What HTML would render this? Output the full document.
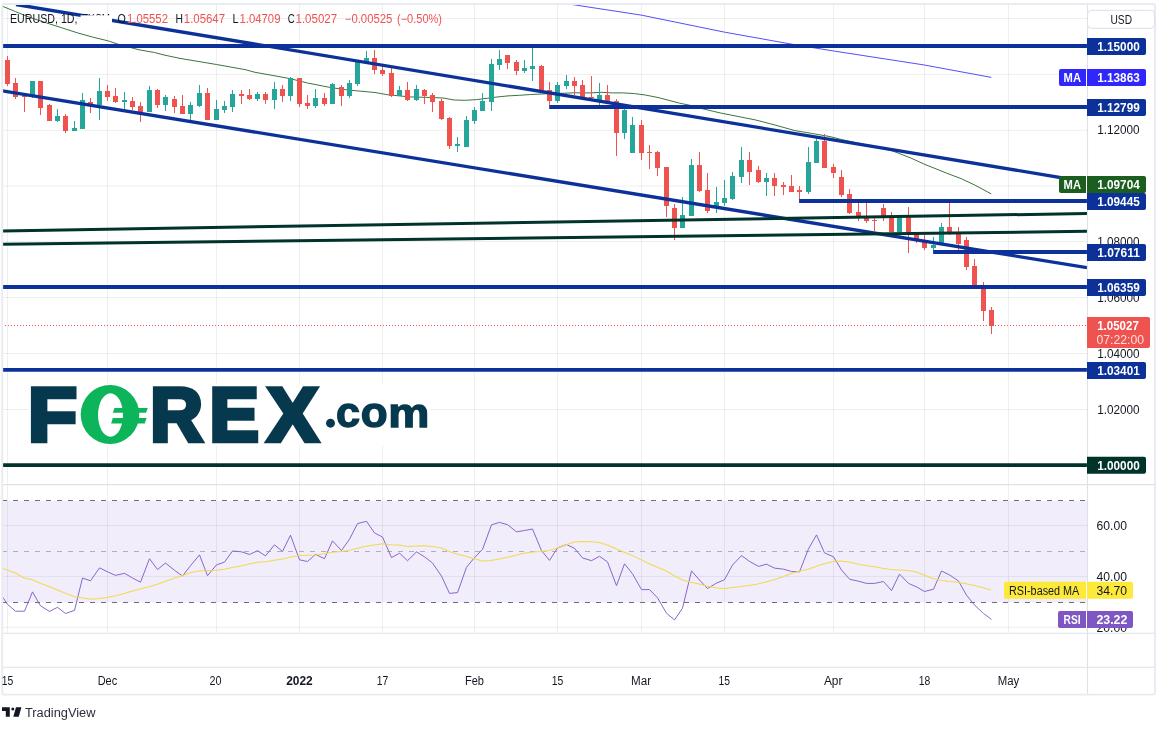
<!DOCTYPE html>
<html lang="en"><head><meta charset="utf-8"><title>EURUSD 1D chart</title>
<style>html,body{margin:0;padding:0;background:#fff}body{width:1165px;height:730px;overflow:hidden}svg{display:block;will-change:transform;filter:blur(.35px)}text{font-family:"Liberation Sans", sans-serif;font-size:12px;fill:#131722}.b{font-weight:bold}.w{fill:#fff}.r{fill:#ef5350}</style></head><body>
<svg width="1165" height="730" viewBox="0 0 1165 730">
<defs><clipPath id="cm"><rect x="2.5" y="4" width="1084.5" height="480.5"/></clipPath><clipPath id="cr"><rect x="2.5" y="485" width="1084.5" height="148"/></clipPath><clipPath id="ct"><rect x="2" y="667" width="1085" height="28"/></clipPath></defs>
<rect x="2.5" y="501" width="1084.5" height="101.5" fill="#f1edfa"/>
<path d="M7.5 4V484M7.5 485V633M107.5 4V484M107.5 485V633M216.5 4V484M216.5 485V633M299.5 4V484M299.5 485V633M382.5 4V484M382.5 485V633M474.5 4V484M474.5 485V633M557.5 4V484M557.5 485V633M641.5 4V484M641.5 485V633M724.5 4V484M724.5 485V633M833.5 4V484M833.5 485V633M924.5 4V484M924.5 485V633M1008.5 4V484M1008.5 485V633M2.5 18.5H1087M2.5 74.4H1087M2.5 130.3H1087M2.5 186.0H1087M2.5 241.5H1087M2.5 297.5H1087M2.5 353.5H1087M2.5 409.5H1087M2.5 525.5H1087M2.5 576.4H1087M2.5 627.4H1087" stroke="rgba(42,46,57,0.075)" stroke-width="1" fill="none"/>
<path d="M2 500.5H1087" stroke="#6a6d7a" stroke-width="1.05" stroke-dasharray="5 6" fill="none"/>
<path d="M2 602.5H1087" stroke="#6a6d7a" stroke-width="1.05" stroke-dasharray="5 6" fill="none"/>
<path d="M2 551.5H1087" stroke="#aeafbe" stroke-width="1" stroke-dasharray="5 6" fill="none"/>
<g clip-path="url(#cm)" fill="none" stroke-linejoin="round">
<polyline points="2.3,6.2 15.5,11.6 30.9,17.8 46.4,22.9 61.8,27.8 77.3,32.8 92.7,37.1 108.2,40.9 117.4,44.0 139.1,49.8 154.5,52.5 164.0,55.0 180.0,58.4 216.5,64.5 245.0,69.6 255.0,72.3 289.6,78.5 307.5,83.0 329.8,87.4 345.4,89.7 356.6,90.8 375.0,92.5 387.3,94.7 409.6,96.9 432.0,97.5 443.0,98.0 454.3,100.0 465.4,100.3 476.6,99.6 487.8,98.2 497.0,97.0 508.0,95.9 519.3,95.3 530.4,94.5 546.4,93.8 563.0,93.3 574.3,92.8 590.0,92.9 601.2,92.3 612.3,92.9 623.5,92.9 634.6,93.6 645.8,95.1 657.0,97.3 668.1,100.1 679.3,103.1 690.4,105.4 701.6,108.5 712.8,111.2 720.0,112.9 755.8,120.0 775.0,125.0 794.9,130.6 811.6,133.4 830.0,136.6 841.7,139.6 860.0,143.5 876.0,147.0 892.7,151.0 910.3,157.8 924.9,164.4 946.7,173.2 961.3,178.7 975.9,185.6 991.2,193.9" stroke="#2f6e32" stroke-width="0.95"/>
<polyline points="567.5,3.8 641.2,15.1 724.3,32.1 794.1,44.6 833.8,51.0 924.4,65.0 991.3,77.4" stroke="#4c44f8" stroke-width="0.95"/>
</g>
<g clip-path="url(#cm)" shape-rendering="crispEdges">
<path d="M32 81h1v17h-1zM30 81h5v16h-5zM57 109h1v13h-1zM55 116h5v5h-5zM74 121h1v10h-1zM72 128h5v3h-5zM82 93h1v36h-1zM80 100h5v29h-5zM99 78h1v42h-1zM97 91h5v14h-5zM124 92h1v17h-1zM122 100h5v2h-5zM149 86h1v26h-1zM147 90h5v22h-5zM165 95h1v16h-1zM163 97h5v8h-5zM190 102h1v18h-1zM188 105h5v9h-5zM199 85h1v22h-1zM197 93h5v13h-5zM216 100h1v20h-1zM214 109h5v11h-5zM224 101h1v12h-1zM222 106h5v4h-5zM232 90h1v22h-1zM230 94h5v13h-5zM257 92h1v9h-1zM255 94h5v5h-5zM274 82h1v27h-1zM272 89h5v11h-5zM290 77h1v24h-1zM288 78h5v18h-5zM315 89h1v19h-1zM313 98h5v8h-5zM332 83h1v21h-1zM330 84h5v20h-5zM349 80h1v18h-1zM347 83h5v13h-5zM357 61h1v25h-1zM355 62h5v22h-5zM366 51h1v12h-1zM364 58h5v5h-5zM399 86h1v10h-1zM397 90h5v6h-5zM416 85h1v16h-1zM414 89h5v11h-5zM457 137h1v15h-1zM455 144h5v2h-5zM466 116h1v31h-1zM464 120h5v27h-5zM474 107h1v17h-1zM472 110h5v11h-5zM482 93h1v18h-1zM480 101h5v10h-5zM491 59h1v52h-1zM489 64h5v38h-5zM499 50h1v20h-1zM497 59h5v6h-5zM524 60h1v13h-1zM522 68h5v3h-5zM532 48h1v33h-1zM530 66h5v3h-5zM557 82h1v21h-1zM555 85h5v16h-5zM566 75h1v14h-1zM564 81h5v5h-5zM599 83h1v22h-1zM597 95h5v7h-5zM624 109h1v30h-1zM622 110h5v23h-5zM632 117h1v36h-1zM630 125h5v28h-5zM682 197h1v31h-1zM680 215h5v13h-5zM691 159h1v57h-1zM689 165h5v51h-5zM716 187h1v26h-1zM714 202h5v5h-5zM724 180h1v26h-1zM722 198h5v5h-5zM732 172h1v28h-1zM730 176h5v23h-5zM741 147h1v36h-1zM739 160h5v17h-5zM766 173h1v23h-1zM764 178h5v4h-5zM808 147h1v47h-1zM806 162h5v30h-5zM816 138h1v25h-1zM814 141h5v22h-5zM899 215h1v21h-1zM897 217h5v15h-5zM933 237h1v13h-1zM931 245h5v3h-5zM941 223h1v20h-1zM939 227h5v16h-5z" fill="#26a69a"/>
<path d="M7 56h1v30h-1zM5 60h5v24h-5zM15 78h1v21h-1zM13 83h5v14h-5zM24 95h1v17h-1zM22 96h5v1h-5zM40 81h1v34h-1zM38 81h5v27h-5zM49 104h1v17h-1zM47 105h5v16h-5zM65 114h1v19h-1zM63 116h5v15h-5zM90 98h1v15h-1zM88 102h5v2h-5zM107 85h1v16h-1zM105 91h5v6h-5zM115 88h1v15h-1zM113 96h5v6h-5zM132 97h1v13h-1zM130 101h5v6h-5zM140 102h1v20h-1zM138 106h5v6h-5zM157 89h1v19h-1zM155 90h5v15h-5zM174 96h1v17h-1zM172 99h5v8h-5zM182 95h1v19h-1zM180 106h5v8h-5zM207 88h1v32h-1zM205 93h5v27h-5zM241 90h1v14h-1zM239 94h5v2h-5zM249 89h1v11h-1zM247 95h5v4h-5zM265 92h1v12h-1zM263 94h5v6h-5zM282 85h1v17h-1zM280 89h5v7h-5zM299 78h1v29h-1zM297 78h5v26h-5zM307 95h1v14h-1zM305 103h5v3h-5zM324 93h1v13h-1zM322 98h5v6h-5zM341 85h1v21h-1zM339 87h5v9h-5zM374 50h1v24h-1zM372 58h5v12h-5zM382 65h1v11h-1zM380 70h5v4h-5zM391 68h1v29h-1zM389 73h5v23h-5zM407 82h1v19h-1zM405 90h5v10h-5zM424 89h1v15h-1zM422 90h5v6h-5zM432 93h1v19h-1zM430 95h5v7h-5zM441 99h1v21h-1zM439 101h5v18h-5zM449 117h1v32h-1zM447 118h5v28h-5zM507 55h1v14h-1zM505 55h5v8h-5zM516 60h1v15h-1zM514 62h5v9h-5zM541 65h1v25h-1zM539 66h5v24h-5zM549 82h1v23h-1zM547 90h5v11h-5zM574 77h1v18h-1zM572 81h5v5h-5zM582 80h1v17h-1zM580 85h5v12h-5zM591 76h1v22h-1zM589 97h5v1h-5zM607 85h1v16h-1zM605 95h5v6h-5zM616 99h1v57h-1zM614 101h5v32h-5zM641 120h1v40h-1zM639 125h5v28h-5zM649 145h1v24h-1zM647 152h5v1h-5zM657 151h1v25h-1zM655 152h5v16h-5zM666 167h1v50h-1zM664 167h5v39h-5zM674 204h1v36h-1zM672 208h5v20h-5zM699 152h1v40h-1zM697 165h5v26h-5zM707 173h1v40h-1zM705 190h5v21h-5zM749 152h1v33h-1zM747 160h5v12h-5zM758 166h1v17h-1zM756 170h5v12h-5zM774 173h1v23h-1zM772 178h5v8h-5zM783 182h1v13h-1zM781 185h5v2h-5zM791 175h1v17h-1zM789 186h5v6h-5zM799 186h1v14h-1zM797 190h5v2h-5zM824 134h1v34h-1zM822 141h5v27h-5zM833 164h1v14h-1zM831 167h5v6h-5zM841 170h1v27h-1zM839 177h5v18h-5zM849 189h1v25h-1zM847 194h5v19h-5zM858 200h1v21h-1zM856 212h5v4h-5zM866 200h1v23h-1zM864 217h5v4h-5zM874 217h1v14h-1zM872 220h5v1h-5zM883 204h1v17h-1zM881 208h5v10h-5zM891 212h1v20h-1zM889 217h5v15h-5zM908 207h1v46h-1zM906 217h5v15h-5zM916 232h1v11h-1zM914 232h5v9h-5zM924 235h1v15h-1zM922 241h5v7h-5zM949 200h1v35h-1zM947 227h5v6h-5zM958 227h1v23h-1zM956 234h5v10h-5zM966 237h1v33h-1zM964 240h5v27h-5zM974 259h1v28h-1zM972 266h5v21h-5zM983 282h1v39h-1zM981 287h5v24h-5zM991 307h1v27h-1zM989 310h5v16h-5z" fill="#ef5350"/>
</g>
<path d="M2 325.5H1087" stroke="#ef5350" stroke-width="1" stroke-dasharray="1 2" fill="none" shape-rendering="crispEdges"/>
<g clip-path="url(#cm)" fill="none" stroke-linejoin="round">
<line x1="16.00" y1="4.50" x2="1092.00" y2="182.79" stroke="#0c3299" stroke-width="3.30"/>
<line x1="2.50" y1="90.88" x2="1087.00" y2="267.69" stroke="#0c3299" stroke-width="3.30"/>
<line x1="2.50" y1="230.90" x2="1087.00" y2="213.50" stroke="#00332a" stroke-width="3.00"/>
<line x1="2.50" y1="244.30" x2="1087.00" y2="231.30" stroke="#00332a" stroke-width="3.00"/>
<line x1="2.50" y1="45.90" x2="1087.00" y2="45.90" stroke="#0c3299" stroke-width="4.00"/>
<line x1="549.20" y1="107.00" x2="1087.00" y2="107.00" stroke="#0c3299" stroke-width="4.00"/>
<line x1="799.10" y1="201.00" x2="1087.00" y2="201.00" stroke="#0c3299" stroke-width="4.00"/>
<line x1="933.10" y1="252.00" x2="1087.00" y2="252.00" stroke="#0c3299" stroke-width="4.00"/>
<line x1="2.50" y1="287.00" x2="1087.00" y2="287.00" stroke="#0c3299" stroke-width="4.00"/>
<line x1="2.50" y1="369.90" x2="1087.00" y2="369.90" stroke="#0c3299" stroke-width="3.90"/>
<line x1="2.50" y1="465.10" x2="1087.00" y2="465.10" stroke="#00332a" stroke-width="3.80"/>
</g>
<g clip-path="url(#cr)" fill="none" stroke-linejoin="round">
<polyline points="2.3,596.5 7.5,604.3 15.5,611.2 24.5,611.2 32.5,591.9 40.5,605.8 49.5,611.5 57.5,607.3 65.5,613.5 74.5,610.4 82.5,578.0 90.5,580.8 99.5,567.9 107.5,571.8 115.5,575.4 124.5,573.3 132.5,578.0 140.5,582.2 149.5,558.7 157.5,569.5 165.5,563.0 174.5,570.3 182.5,576.0 190.5,565.7 199.5,554.9 207.5,575.7 216.5,564.9 224.5,562.1 232.5,551.0 241.5,551.8 249.5,554.5 257.5,550.7 265.5,555.9 274.5,544.8 282.5,551.5 290.5,535.2 299.5,559.8 307.5,561.5 315.5,554.4 324.5,558.7 332.5,540.9 341.5,550.5 349.5,539.2 357.5,523.6 366.5,521.3 374.5,532.9 382.5,537.0 391.5,557.6 399.5,553.2 407.5,560.7 416.5,551.9 424.5,556.8 432.5,563.0 441.5,576.1 449.5,593.4 457.5,592.6 466.5,567.3 474.5,557.6 482.5,549.4 491.5,524.8 499.5,522.4 507.5,524.7 516.5,531.8 524.5,530.5 532.5,529.0 541.5,550.6 549.5,560.4 557.5,547.9 566.5,544.5 574.5,548.3 582.5,557.9 591.5,560.7 599.5,556.3 607.5,561.9 616.5,585.7 624.5,563.8 632.5,573.8 641.5,589.6 649.5,589.6 657.5,597.8 666.5,613.2 674.5,619.9 682.5,608.2 691.5,570.9 699.5,580.0 707.5,588.5 716.5,583.1 724.5,579.7 732.5,565.0 741.5,555.6 749.5,561.4 758.5,566.4 766.5,564.2 774.5,568.1 783.5,569.2 791.5,571.5 799.5,571.8 808.5,548.8 816.5,534.9 824.5,552.9 833.5,556.8 841.5,569.9 849.5,579.2 858.5,581.2 866.5,583.4 874.5,583.4 883.5,581.5 891.5,590.6 899.5,574.1 908.5,583.4 916.5,586.9 924.5,591.5 933.5,589.2 941.5,571.0 949.5,574.9 958.5,581.0 966.5,595.2 974.5,605.0 983.5,613.5 991.5,619.4" stroke="#8460c6" stroke-width="0.95"/>
<polyline points="2.0,568.2 15.5,573.0 24.1,578.0 32.4,579.8 40.8,583.4 49.1,586.5 57.5,590.0 65.8,593.4 74.2,596.5 82.5,598.1 90.9,599.3 99.2,598.4 107.5,597.3 115.9,595.8 124.2,593.4 132.6,591.1 140.9,588.8 149.3,586.8 157.6,584.2 166.0,581.1 174.3,578.3 181.6,575.7 190.9,572.6 199.2,571.1 207.5,570.6 215.9,570.3 224.2,569.2 232.4,567.5 240.8,566.0 249.1,564.1 257.5,562.3 265.8,561.8 274.1,560.3 282.5,559.0 290.8,556.9 299.2,555.6 307.5,555.3 315.9,554.9 324.2,553.8 332.5,552.2 340.9,551.6 349.1,550.6 357.5,548.3 365.8,546.3 374.1,544.9 382.5,543.7 390.8,544.8 399.2,544.9 407.5,546.5 415.9,546.0 424.2,545.7 432.5,546.5 440.9,547.8 449.2,551.4 457.6,554.2 465.9,556.3 474.3,558.8 482.6,561.0 490.8,560.4 499.1,559.1 507.5,557.3 515.8,555.3 524.2,553.2 532.6,551.9 540.9,551.4 549.2,550.6 557.4,547.9 565.8,544.8 574.1,542.1 582.5,541.4 590.8,541.7 599.2,542.4 607.5,544.9 615.8,548.8 624.2,552.2 632.5,555.6 640.9,559.6 649.2,563.8 657.6,567.2 665.9,570.7 674.2,575.7 682.6,580.0 690.8,582.3 699.2,583.9 707.5,586.2 715.8,587.7 724.2,588.8 732.5,587.4 740.9,586.6 749.2,585.4 757.6,583.9 765.9,582.0 774.2,579.7 782.4,576.9 790.8,573.5 799.1,571.2 807.5,569.5 815.8,566.4 824.2,563.8 832.5,561.8 840.8,561.1 849.2,562.1 857.6,564.0 865.8,565.6 874.1,566.8 882.4,568.2 890.8,569.4 899.1,569.9 907.5,570.5 915.8,571.8 924.2,574.9 932.5,578.4 940.9,580.2 949.2,581.4 957.5,582.3 965.9,583.7 974.2,585.4 982.6,587.5 990.8,589.9" stroke="#f2d94f" stroke-width="1.05"/>
</g>
<g fill="none" stroke="#e0e1e5" stroke-width="1.15">
<path d="M2.5 484.6H1155M2.5 633.2H1155M2.5 667.2H1155M1087.5 4V694"/>
</g>
<rect x="2.2" y="4" width="1152.8" height="690.6" rx="2" fill="none" stroke="#e9ebf2" stroke-width="1.9"/>
<rect x="29" y="383.5" width="400" height="62" fill="#fff"/>
<text class="b" style="font-size:75.27px;fill:#06384e;stroke:#06384e;stroke-width:4.6px"><tspan x="28.09" y="440.95" textLength="49.01" lengthAdjust="spacingAndGlyphs">F</tspan><tspan x="80.6" y="440.3" style="fill:#0cb45a;stroke:none">O</tspan><tspan x="150.36" y="440.95" textLength="52.58" lengthAdjust="spacingAndGlyphs">R</tspan><tspan x="209.41" y="440.95" textLength="49.37" lengthAdjust="spacingAndGlyphs">E</tspan><tspan x="267.16" y="440.95" textLength="50.82" lengthAdjust="spacingAndGlyphs">X</tspan></text>
<ellipse cx="110" cy="414.5" rx="29.3" ry="29.5" fill="#0cb45a"/>
<ellipse cx="110.5" cy="415" rx="12.5" ry="21.75" fill="#fff"/>
<path d="M114.45 407.9H147.8L146 412.85H112.8zM112.8 418.1H146.6L144.7 423.6H111.15z" fill="#0cb45a"/>
<text class="b" style="font-size:42.5px;fill:#06384e;stroke:#06384e;stroke-width:1.3px"><tspan x="325.6" y="426" style="font-size:32px;stroke:none">.</tspan><tspan x="335.97" y="427.39" textLength="24.05" lengthAdjust="spacingAndGlyphs">c</tspan><tspan x="360.65" y="427.39" textLength="26.94" lengthAdjust="spacingAndGlyphs">o</tspan><tspan x="388.25" y="426.87" textLength="41.09" lengthAdjust="spacingAndGlyphs" style="font-size:39.79px">m</tspan></text>
<circle cx="330.5" cy="423.2" r="4.45" fill="#06384e"/>
<text x="10" y="22.7" textLength="67.5" lengthAdjust="spacingAndGlyphs">EURUSD, 1D,</text>
<text x="82" y="22.7" textLength="28" lengthAdjust="spacingAndGlyphs">FXCM</text>
<rect x="80.5" y="15.3" width="31.5" height="15.7" fill="#fff"/>
<text x="117.6" y="22.7" textLength="8.3" lengthAdjust="spacingAndGlyphs">O</text>
<text x="127.0" y="22.7" textLength="41.0" lengthAdjust="spacingAndGlyphs" class="r">1.05552</text>
<text x="175.6" y="22.7" textLength="7.5" lengthAdjust="spacingAndGlyphs">H</text>
<text x="183.8" y="22.7" textLength="41.2" lengthAdjust="spacingAndGlyphs" class="r">1.05647</text>
<text x="232.6" y="22.7" textLength="6.0" lengthAdjust="spacingAndGlyphs">L</text>
<text x="239.5" y="22.7" textLength="41.0" lengthAdjust="spacingAndGlyphs" class="r">1.04709</text>
<text x="287.8" y="22.7" textLength="7.0" lengthAdjust="spacingAndGlyphs">C</text>
<text x="295.5" y="22.7" textLength="41.6" lengthAdjust="spacingAndGlyphs" class="r">1.05027</text>
<text x="344.8" y="22.7" textLength="47.6" lengthAdjust="spacingAndGlyphs" class="r">−0.00525</text>
<text x="397.0" y="22.7" textLength="45.0" lengthAdjust="spacingAndGlyphs" class="r">(−0.50%)</text>
<text x="1097.2" y="134.0" textLength="42.4" lengthAdjust="spacingAndGlyphs">1.12000</text>
<text x="1097.2" y="245.8" textLength="42.4" lengthAdjust="spacingAndGlyphs">1.08000</text>
<text x="1097.2" y="301.7" textLength="42.4" lengthAdjust="spacingAndGlyphs">1.06000</text>
<text x="1097.2" y="357.8" textLength="42.4" lengthAdjust="spacingAndGlyphs">1.04000</text>
<text x="1097.2" y="413.9" textLength="42.4" lengthAdjust="spacingAndGlyphs">1.02000</text>
<text x="1096.6" y="530.0" textLength="30.4" lengthAdjust="spacingAndGlyphs">60.00</text>
<text x="1096.6" y="581.0" textLength="30.4" lengthAdjust="spacingAndGlyphs">40.00</text>
<text x="1096.6" y="631.9" textLength="30.4" lengthAdjust="spacingAndGlyphs">20.00</text>
<rect x="1087.5" y="10.3" width="67" height="18" rx="4" fill="#fff" stroke="#dcdfe8" stroke-width="1"/>
<text x="1110.5" y="23.7" textLength="21.5" lengthAdjust="spacingAndGlyphs">USD</text>
<path d="M1087.0 38.0h57.0a2 2 0 0 1 2 2v13.0a2 2 0 0 1 -2 2h-57.0z" fill="#0c3299"/>
<text x="1097.2" y="50.9" textLength="42.6" lengthAdjust="spacingAndGlyphs" class="b" style="fill:#fff">1.15000</text>
<rect x="1085.0" y="68.9" width="3.0" height="17.0" fill="#fff"/>
<path d="M1061.0 68.9h25.0v17.0h-25.0a2 2 0 0 1 -2 -2v-13.0a2 2 0 0 1 2 -2z" fill="#3027fc"/>
<text x="1063.6" y="81.8" textLength="17.4" lengthAdjust="spacingAndGlyphs" class="b" style="fill:#fff">MA</text>
<path d="M1087.0 68.9h57.0a2 2 0 0 1 2 2v13.0a2 2 0 0 1 -2 2h-57.0z" fill="#3027fc"/>
<text x="1097.2" y="81.8" textLength="42.6" lengthAdjust="spacingAndGlyphs" class="b" style="fill:#fff">1.13863</text>
<path d="M1087.0 98.9h57.0a2 2 0 0 1 2 2v13.0a2 2 0 0 1 -2 2h-57.0z" fill="#0c3299"/>
<text x="1097.2" y="111.8" textLength="42.6" lengthAdjust="spacingAndGlyphs" class="b" style="fill:#fff">1.12799</text>
<rect x="1085.0" y="176.0" width="3.0" height="17.0" fill="#fff"/>
<path d="M1061.0 176.0h25.0v17.0h-25.0a2 2 0 0 1 -2 -2v-13.0a2 2 0 0 1 2 -2z" fill="#1b5e20"/>
<text x="1063.6" y="188.9" textLength="17.4" lengthAdjust="spacingAndGlyphs" class="b" style="fill:#fff">MA</text>
<path d="M1087.0 176.0h57.0a2 2 0 0 1 2 2v13.0a2 2 0 0 1 -2 2h-57.0z" fill="#1b5e20"/>
<text x="1097.2" y="188.9" textLength="42.6" lengthAdjust="spacingAndGlyphs" class="b" style="fill:#fff">1.09704</text>
<path d="M1087.0 193.1h57.0a2 2 0 0 1 2 2v13.0a2 2 0 0 1 -2 2h-57.0z" fill="#0c3299"/>
<text x="1097.2" y="206.0" textLength="42.6" lengthAdjust="spacingAndGlyphs" class="b" style="fill:#fff">1.09445</text>
<path d="M1087.0 243.9h57.0a2 2 0 0 1 2 2v13.0a2 2 0 0 1 -2 2h-57.0z" fill="#0c3299"/>
<text x="1097.2" y="256.8" textLength="42.6" lengthAdjust="spacingAndGlyphs" class="b" style="fill:#fff">1.07611</text>
<path d="M1087.0 278.9h57.0a2 2 0 0 1 2 2v13.0a2 2 0 0 1 -2 2h-57.0z" fill="#0c3299"/>
<text x="1097.2" y="291.8" textLength="42.6" lengthAdjust="spacingAndGlyphs" class="b" style="fill:#fff">1.06359</text>
<path d="M1087.0 361.9h57.0a2 2 0 0 1 2 2v13.0a2 2 0 0 1 -2 2h-57.0z" fill="#0c3299"/>
<text x="1097.2" y="374.8" textLength="42.6" lengthAdjust="spacingAndGlyphs" class="b" style="fill:#fff">1.03401</text>
<path d="M1087.0 456.8h57.0a2 2 0 0 1 2 2v13.0a2 2 0 0 1 -2 2h-57.0z" fill="#00332a"/>
<text x="1097.2" y="469.7" textLength="42.6" lengthAdjust="spacingAndGlyphs" class="b" style="fill:#fff">1.00000</text>
<path d="M1087 317h61a2 2 0 0 1 2 2v27a2 2 0 0 1 -2 2h-61z" fill="#ef5350"/>
<text x="1097.2" y="330" textLength="41.6" lengthAdjust="spacingAndGlyphs" class="b w">1.05027</text>
<text x="1096.4" y="343.6" textLength="47.6" lengthAdjust="spacingAndGlyphs" style="fill:#fde0df">07:22:00</text>
<rect x="1085.0" y="581.8" width="3.0" height="17.0" fill="#fff"/>
<path d="M1006.0 581.8h80.0v17.0h-80.0a2 2 0 0 1 -2 -2v-13.0a2 2 0 0 1 2 -2z" fill="#fde93a"/>
<text x="1009.0" y="594.7" textLength="70.3" lengthAdjust="spacingAndGlyphs" class="" style="fill:#131722">RSI-based MA</text>
<path d="M1087.0 581.8h44.0a2 2 0 0 1 2 2v13.0a2 2 0 0 1 -2 2h-44.0z" fill="#fde93a"/>
<text x="1096.6" y="594.7" textLength="30.4" lengthAdjust="spacingAndGlyphs" class="" style="fill:#131722">34.70</text>
<rect x="1085.0" y="610.9" width="3.0" height="17.0" fill="#fff"/>
<path d="M1060.0 610.9h26.0v17.0h-26.0a2 2 0 0 1 -2 -2v-13.0a2 2 0 0 1 2 -2z" fill="#7e57c2"/>
<text x="1063.6" y="623.8" textLength="17.0" lengthAdjust="spacingAndGlyphs" class="b" style="fill:#fff">RSI</text>
<path d="M1087.0 610.9h44.0a2 2 0 0 1 2 2v13.0a2 2 0 0 1 -2 2h-44.0z" fill="#7e57c2"/>
<text x="1096.4" y="623.8" textLength="31.0" lengthAdjust="spacingAndGlyphs" class="b" style="fill:#fff">23.22</text>
<g clip-path="url(#ct)">
<text x="7.5" y="685.1" text-anchor="middle" textLength="11.5" lengthAdjust="spacingAndGlyphs">15</text>
<text x="107.4" y="685.1" text-anchor="middle" textLength="19.5" lengthAdjust="spacingAndGlyphs">Dec</text>
<text x="215.5" y="685.1" text-anchor="middle" textLength="12.0" lengthAdjust="spacingAndGlyphs">20</text>
<text x="299.5" y="685.1" text-anchor="middle" textLength="26.5" lengthAdjust="spacingAndGlyphs" class="b">2022</text>
<text x="382.5" y="685.1" text-anchor="middle" textLength="11.5" lengthAdjust="spacingAndGlyphs">17</text>
<text x="474.5" y="685.1" text-anchor="middle" textLength="19.0" lengthAdjust="spacingAndGlyphs">Feb</text>
<text x="557.4" y="685.1" text-anchor="middle" textLength="11.5" lengthAdjust="spacingAndGlyphs">15</text>
<text x="641.0" y="685.1" text-anchor="middle" textLength="20.0" lengthAdjust="spacingAndGlyphs">Mar</text>
<text x="724.2" y="685.1" text-anchor="middle" textLength="11.5" lengthAdjust="spacingAndGlyphs">15</text>
<text x="833.2" y="685.1" text-anchor="middle" textLength="18.5" lengthAdjust="spacingAndGlyphs">Apr</text>
<text x="924.6" y="685.1" text-anchor="middle" textLength="11.5" lengthAdjust="spacingAndGlyphs">18</text>
<text x="1008.5" y="685.1" text-anchor="middle" textLength="21.5" lengthAdjust="spacingAndGlyphs">May</text>
</g>
<path d="M2 707.3H9.8V716.7H5.8V711.1H2zM16 707.3H21.4L18.75 716.7H13.3z" fill="#131722"/><circle cx="12.8" cy="709" r="1.5" fill="#131722"/>
<text x="25" y="716.7" textLength="70.5" lengthAdjust="spacingAndGlyphs" style="font-size:12.5px;fill:#2a2e39">TradingView</text>
</svg></body></html>
